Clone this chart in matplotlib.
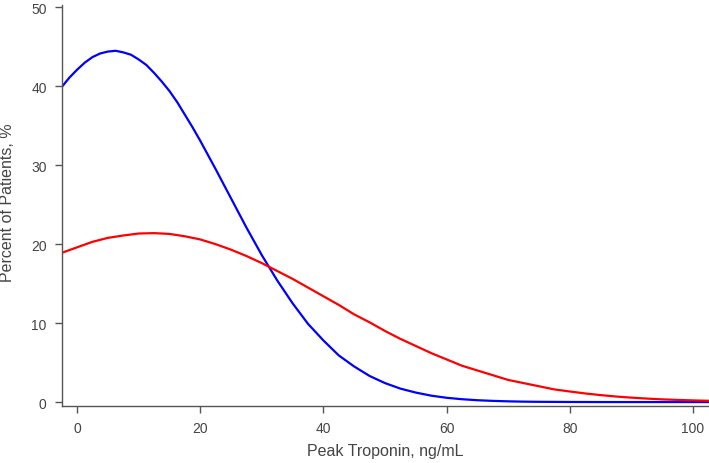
import matplotlib
matplotlib.use("Agg")
import matplotlib.pyplot as plt

# values
blue_x = [-2.5, -1.25, 0, 1.25, 2.5, 3.75, 5, 6.25, 7.5, 8.75, 10, 11.25,
          12.5, 13.75, 15, 16.25, 17.5, 18.75, 20, 22.5, 25, 27.5, 30, 32.5,
          35, 37.5, 40, 42.5, 45, 47.5, 50, 52.5, 55, 57.5, 60, 62.5, 65,
          67.5, 70, 72.5, 75, 77.5, 80, 85, 90, 95, 100, 102.5]
blue_pct = [39.9, 41.1, 42.1, 43.0, 43.7, 44.16, 44.4, 44.5, 44.3, 44.0,
            43.4, 42.7, 41.7, 40.6, 39.4, 38.0, 36.4, 34.8, 33.1, 29.5, 25.8,
            22.1, 18.6, 15.4, 12.5, 9.9, 7.8, 5.9, 4.5, 3.3, 2.4, 1.7, 1.2,
            0.81, 0.54, 0.36, 0.23, 0.15, 0.09, 0.05, 0.03, 0.02, 0.01, 0.0,
            0.0, 0.0, 0.0, 0.0]

red_x = [-2.5, 0, 2.5, 5, 7.5, 10, 12.5, 15, 17.5, 20, 22.5, 25, 27.5, 30,
         32.5, 35, 37.5, 40, 42.5, 45, 47.5, 50, 52.5, 55, 57.5, 60, 62.5,
         65, 67.5, 70, 72.5, 75, 77.5, 80, 82.5, 85, 87.5, 90, 92.5, 95,
         97.5, 100, 102.5]
red_pct = [18.9, 19.6, 20.3, 20.8, 21.1, 21.35, 21.4, 21.3, 21.0, 20.6, 20.0,
           19.3, 18.5, 17.6, 16.6, 15.6, 14.5, 13.4, 12.3, 11.1, 10.1, 9.0,
           8.0, 7.1, 6.2, 5.4, 4.6, 4.0, 3.4, 2.8, 2.4, 2.0, 1.6, 1.34, 1.09,
           0.88, 0.70, 0.56, 0.44, 0.34, 0.27, 0.21, 0.16]

x_ticks = [0, 20, 40, 60, 80, 100]
y_ticks = [0, 10, 20, 30, 40, 50]

plt.rcParams['font.family'] = ['Liberation Sans', 'DejaVu Sans']

fig = plt.figure(figsize=(7.09, 4.64), dpi=100)
ax = fig.add_axes([62 / 709, 1 - 407 / 464, 1 - 62 / 709, 401 / 464])

ax.plot(blue_x, blue_pct, color="#0000ff", lw=1.6, solid_joinstyle="round")
ax.plot(red_x, red_pct, color="#ff0000", lw=1.6, solid_joinstyle="round")

ax.set_xlim(-2.45, 102.6)
ax.set_ylim(-0.5, 50.3)
ax.set_xticks(x_ticks)
ax.set_yticks(y_ticks)

for s in ["top", "right"]:
    ax.spines[s].set_visible(False)
for s in ["left", "bottom"]:
    ax.spines[s].set_color("#555555")
    ax.spines[s].set_linewidth(1.0)

ax.tick_params(direction="out", length=5, width=1, color="#555555",
               labelcolor="#444444", labelsize=10, pad=6)

ax.set_xlabel("Peak Troponin, ng/mL", fontsize=11.5, color="#444444")
ax.set_ylabel("Percent of Patients, %", fontsize=11.5, color="#444444")
ax.xaxis.set_label_coords(0.5, -0.092)
ax.yaxis.set_label_coords(-0.073, 0.509)

fig.savefig("out.png", dpi=100)
